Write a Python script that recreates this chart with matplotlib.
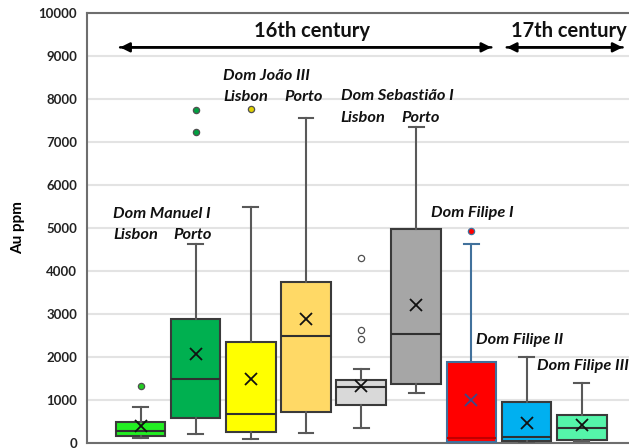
import matplotlib
matplotlib.use("Agg")
import matplotlib.pyplot as plt

# ---- data (Au ppm) ----
categories = ["Manuel I Lisbon", "Manuel I Porto", "João III Lisbon", "João III Porto",
              "Sebastião I Lisbon", "Sebastião I Porto", "Filipe I", "Filipe II", "Filipe III"]
whisker_low = [100, 200, 80, 230, 340, 1150, 0, 0, 30]
q1 = [140, 575, 250, 700, 880, 1360, 15, 25, 60]
median = [265, 1470, 670, 2470, 1290, 2515, 100, 125, 340]
q3 = [475, 2875, 2345, 3730, 1450, 4970, 1880, 935, 645]
whisker_high = [820, 4620, 5475, 7555, 1715, 7335, 4620, 2000, 1385]
means = [375, 2070, 1470, 2865, 1320, 3190, 985, 465, 408]
outliers = [[1310], [7220, 7740], [7770], [], [2410, 2610, 4285], [], [4930], [], []]

box_colors = ["#22EE22", "#00B050", "#FFFF00", "#FFD966", "#D9D9D9",
              "#A6A6A6", "#FF0000", "#00B0F0", "#55F5AA"]
flier_colors = ["#22CC22", "#00A040", "#E0D000", "#FFD966", "#FFFFFF",
                "#A6A6A6", "#FF0000", "#00B0F0", "#55F5AA"]
yticks = [0, 1000, 2000, 3000, 4000, 5000, 6000, 7000, 8000, 9000, 10000]

labels = [
    ("Dom Manuel I", 0.505, 5318),
    ("Lisbon", 0.505, 4827),
    ("Porto", 1.604, 4827),
    ("Dom João III", 2.50, 8528),
    ("Lisbon", 2.50, 8037),
    ("Porto", 3.60, 8037),
    ("Dom Sebastião I", 4.63, 8061),
    ("Lisbon", 4.63, 7554),
    ("Porto", 5.73, 7554),
    ("Dom Filipe I", 6.27, 5334),
    ("Dom Filipe II", 7.08, 2397),
    ("Dom Filipe III", 8.18, 1790),
]

fig = plt.figure(figsize=(6.29, 4.48), dpi=100)
ax = fig.add_axes([87 / 629, 5.5 / 448, 1 - 87 / 629 + 0.01, 429.5 / 448])

stats = []
for i in range(len(categories)):
    stats.append(dict(label=categories[i], whislo=whisker_low[i], q1=q1[i], med=median[i],
                      q3=q3[i], whishi=whisker_high[i], mean=means[i], fliers=outliers[i]))

positions = list(range(1, len(categories) + 1))
for i, st in enumerate(stats):
    edge = "#41719C" if i == 6 else "#3A3A3A"
    wcol = "#41719C" if i == 6 else "#595959"
    medcol = "#C00000" if i == 6 else "#303030"
    meancol = "#3A4A8A" if i == 6 else "#111111"
    ax.bxp([st], positions=[positions[i]], widths=0.9, capwidths=0.27,
           showmeans=True, patch_artist=True,
           boxprops=dict(facecolor=box_colors[i], edgecolor=edge, linewidth=1.5),
           medianprops=dict(color=medcol, linewidth=1.5),
           whiskerprops=dict(color=wcol, linewidth=1.5),
           capprops=dict(color=wcol, linewidth=1.5),
           meanprops=dict(marker="x", markeredgecolor=meancol, markersize=9,
                          markeredgewidth=1.3),
           flierprops=dict(marker="o", markerfacecolor=flier_colors[i],
                           markeredgecolor="#505050" if i != 6 else "#41719C",
                           markersize=4.5, markeredgewidth=0.9),
           zorder=3)

ax.set_xlim(0.03, 9.97)
ax.set_ylim(0, 10000)
ax.set_yticks(yticks)
ax.set_yticklabels([str(v) for v in yticks], fontweight="bold", fontsize=9.5,
                   family="Lato", color="#222222")
ax.set_xticks([])
ax.tick_params(axis="y", length=0, pad=7)
ax.yaxis.grid(True, color="#E3E3E3", linewidth=1.5, zorder=0)
ax.set_axisbelow(True)
for s in ["left", "bottom", "top"]:
    ax.spines[s].set_color("#6E6E6E")
    ax.spines[s].set_linewidth(1.5)
ax.spines["right"].set_visible(False)
ax.set_ylabel("Au ppm", fontweight="bold", fontsize=11, family="Lato", labelpad=10)

# century arrows
arrow_kw = dict(arrowstyle="-|>", color="black", lw=1.8, mutation_scale=14)
ax.annotate("", xy=(0.58, 9200), xytext=(7.41, 9200), arrowprops=arrow_kw)
ax.annotate("", xy=(7.41, 9200), xytext=(0.58, 9200), arrowprops=arrow_kw)
ax.annotate("", xy=(7.59, 9200), xytext=(9.79, 9200), arrowprops=arrow_kw)
ax.annotate("", xy=(9.79, 9200), xytext=(7.59, 9200), arrowprops=arrow_kw)
ax.text(4.1, 9570, "16th century", ha="center", va="center", fontsize=14.5,
        fontweight="bold", family="Lato", color="#111111")
ax.text(8.77, 9570, "17th century", ha="center", va="center", fontsize=14.5,
        fontweight="bold", family="Lato", color="#111111")

for txt, x, y in labels:
    ax.text(x, y, txt, ha="left", va="center", fontsize=11.8, fontweight="bold",
            fontstyle="italic", family="Lato", color="#111111", zorder=5)

fig.savefig("out.png", dpi=100)
